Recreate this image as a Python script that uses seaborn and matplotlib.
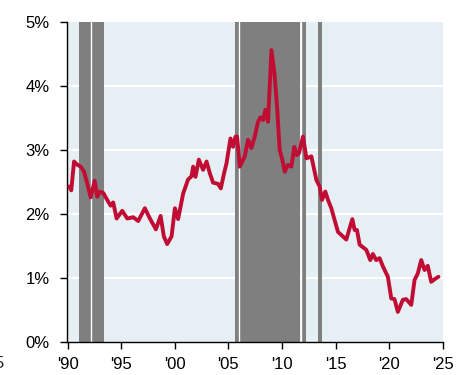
import matplotlib
matplotlib.use("Agg")
import matplotlib.pyplot as plt
import seaborn as sns
import pandas as pd

# Series: decimal year and rate (%)
years = [1990.17, 1990.35, 1990.61, 1990.91, 1991.23, 1991.54, 1991.84, 1992.16,
         1992.53, 1992.77, 1993.03, 1993.33, 1993.70, 1994.02, 1994.26, 1994.58,
         1995.10, 1995.57, 1995.88, 1996.12, 1996.59, 1997.21, 1997.68, 1998.24,
         1998.68, 1998.98, 1999.29, 1999.70, 2000.01, 2000.31, 2000.78, 2001.24,
         2001.56, 2001.71, 2001.93, 2002.24, 2002.64, 2002.96, 2003.26, 2003.57,
         2004.04, 2004.29, 2004.60, 2004.82, 2005.19, 2005.43, 2005.66, 2005.81,
         2006.06, 2006.52, 2006.83, 2007.14, 2007.45, 2007.76, 2007.99, 2008.23,
         2008.45, 2008.69, 2009.01, 2009.29, 2009.53, 2009.78, 2010.03, 2010.25,
         2010.55, 2010.87, 2011.14, 2011.36, 2011.58, 2011.95, 2012.27, 2012.73,
         2013.20, 2013.50, 2013.72, 2014.03, 2014.28, 2014.59, 2015.21, 2015.99,
         2016.30, 2016.55, 2016.76, 2016.98, 2017.23, 2017.85, 2018.22, 2018.46,
         2018.78, 2019.09, 2019.40, 2019.86, 2020.18, 2020.48, 2020.79, 2021.26,
         2021.57, 2022.04, 2022.35, 2022.65, 2022.97, 2023.28, 2023.58, 2023.90,
         2024.21, 2024.58]
rates = [2.43, 2.37, 2.82, 2.77, 2.74, 2.66, 2.48, 2.26,
         2.52, 2.27, 2.35, 2.33, 2.22, 2.13, 2.18, 1.93,
         2.05, 1.93, 1.94, 1.95, 1.89, 2.09, 1.93, 1.76,
         1.97, 1.65, 1.53, 1.65, 2.09, 1.92, 2.32, 2.54,
         2.59, 2.74, 2.58, 2.85, 2.69, 2.82, 2.64, 2.49,
         2.47, 2.40, 2.64, 2.79, 3.18, 3.05, 3.21, 3.21,
         2.74, 2.90, 3.16, 3.03, 3.21, 3.44, 3.51, 3.47,
         3.63, 3.44, 4.56, 4.20, 3.68, 3.00, 2.84, 2.66,
         2.77, 2.74, 3.05, 2.92, 2.95, 3.21, 2.87, 2.90,
         2.53, 2.43, 2.22, 2.35, 2.22, 2.09, 1.72, 1.60,
         1.78, 1.92, 1.75, 1.75, 1.52, 1.44, 1.28, 1.375,
         1.28, 1.31, 1.18, 1.02, 0.68, 0.67, 0.47, 0.66,
         0.67, 0.58, 0.97, 1.07, 1.28, 1.125, 1.19, 0.94,
         0.98, 1.02]

# Shaded periods (start, end) in decimal years
shade_start = [1991.07, 1992.31, 2005.58, 2006.07, 2011.86, 2013.35]
shade_end = [1992.16, 1993.43, 2005.98, 2011.70, 2012.23, 2013.72]

x_ticks = [1990, 1995, 2000, 2005, 2010, 2015, 2020, 2025]
x_labels = ["'90", "'95", "'00", "'05", "'10", "'15", "'20", "'25"]
y_ticks = [0, 1, 2, 3, 4, 5]
y_labels = ["0%", "1%", "2%", "3%", "4%", "5%"]

df = pd.DataFrame({"year": years, "rate": rates})

sns.set_style("ticks")
plt.rcParams["font.family"] = ["Liberation Sans", "DejaVu Sans"]

fig = plt.figure(figsize=(4.64, 3.75), dpi=100)
ax = fig.add_axes([67.5 / 464, 33 / 375, (443 - 67.5) / 464, (342 - 22) / 375])
ax.set_facecolor("#E6EFF3")

# horizontal white gridlines under the shading
for yv in [1, 2, 3, 4]:
    ax.axhline(yv, color="white", lw=1.6, zorder=0.5)

for s, e in zip(shade_start, shade_end):
    ax.axvspan(s, e, facecolor="#7F7F7F", edgecolor="none", zorder=1)

# thin white separators between adjacent shaded blocks
for s, e in zip(shade_end[:-1], shade_start[1:]):
    if s - e > -0.3:
        ax.axvline((s + e) / 2, color="white", lw=1.0, zorder=1.2)

sns.lineplot(data=df, x="year", y="rate", ax=ax, color="#C10C34", lw=2.8,
             zorder=3)

ax.set_xlim(1990, 2025)
ax.set_ylim(0, 5)
ax.set_xticks(x_ticks)
ax.set_xticklabels(x_labels)
ax.set_yticks(y_ticks)
ax.set_yticklabels(y_labels)
ax.set_xlabel("")
ax.set_ylabel("")
ax.tick_params(axis="both", labelsize=12, colors="black", length=5, width=1)
ax.tick_params(axis="y", pad=8)
ax.tick_params(axis="x", pad=6)
for side in ["top", "right"]:
    ax.spines[side].set_visible(False)
for side in ["left", "bottom"]:
    ax.spines[side].set_color("black")
    ax.spines[side].set_linewidth(1)

fig.text(4 / 464, 1 - 363 / 375, "5", ha="right", va="center", fontsize=12)

fig.savefig("out.png", dpi=100, facecolor="white")
